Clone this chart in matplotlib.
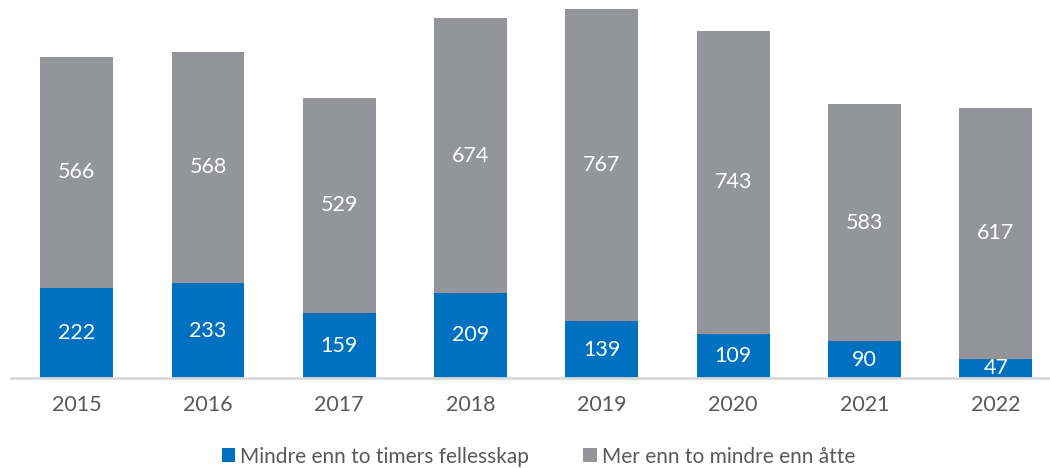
import matplotlib.pyplot as plt
import numpy as np

years = ['2015', '2016', '2017', '2018', '2019', '2020', '2021', '2022']
mindre = [222, 233, 159, 209, 139, 109, 90, 47]
mer = [566, 568, 529, 674, 767, 743, 583, 617]

blue = '#0070C0'
gray = '#939598'

plt.rcParams['font.family'] = ['Lato', 'DejaVu Sans']

fig = plt.figure(figsize=(10.5, 4.68), dpi=100, facecolor='white')
ax = fig.add_axes([0.0105, 0.1923, 0.9895, 0.8077])

x = np.arange(len(years))
b1 = ax.bar(x, mindre, width=0.555, color=blue, label='Mindre enn to timers fellesskap')
b2 = ax.bar(x, mer, width=0.555, bottom=mindre, color=gray, label='Mer enn to mindre enn åtte')

for i in range(len(years)):
    ax.text(x[i], mindre[i] / 2, str(mindre[i]), ha='center', va='center',
            color='white', fontsize=15.5)
    ax.text(x[i], mindre[i] + mer[i] / 2, str(mer[i]), ha='center', va='center',
            color='white', fontsize=15.5)

ax.set_xlim(-0.5, 7.413)
ax.set_ylim(0, 928)
ax.set_xticks(x)
ax.set_xticklabels(years, fontsize=15.5, color='#595959')
ax.tick_params(axis='x', length=0, pad=12)
ax.set_yticks([])
for s in ['top', 'right', 'left']:
    ax.spines[s].set_visible(False)
ax.spines['bottom'].set_color('#D9D9D9')
ax.spines['bottom'].set_linewidth(2)

fig.legend(handles=[b1, b2], loc='lower center', bbox_to_anchor=(0.513, -0.024), ncol=2,
           frameon=False, fontsize=15, handlelength=0.65, handleheight=0.65,
           handletextpad=0.25, columnspacing=2.6, labelcolor='#595959', borderpad=0.1)

fig.savefig('out.png', dpi=100)
